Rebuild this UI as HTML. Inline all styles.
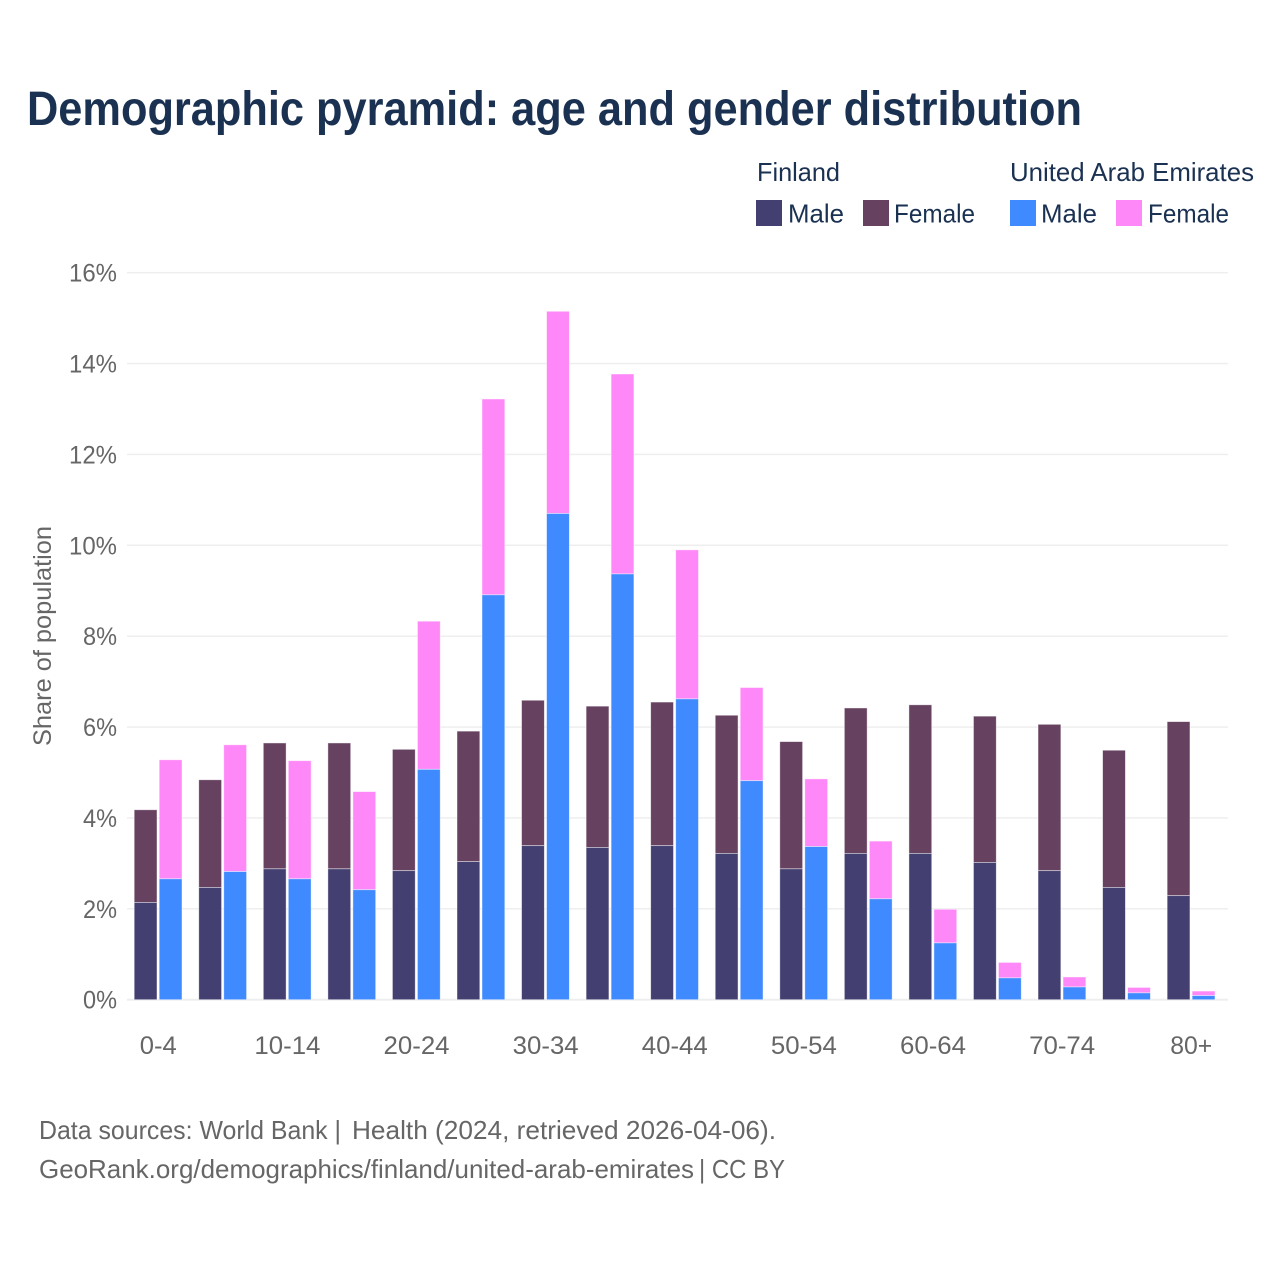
<!DOCTYPE html>
<html lang="en">
<head>
<meta charset="utf-8">
<title>Demographic pyramid</title>
<style>
html,body{margin:0;padding:0;background:#fff;}
svg{display:block;font-family:"Liberation Sans",sans-serif;}
</style>
</head>
<body>
<svg id="chart" width="1280" height="1280" viewBox="0 0 1280 1280" xmlns="http://www.w3.org/2000/svg">
<rect x="0" y="0" width="1280" height="1280" fill="#ffffff"/>
<text x="27" y="125" font-size="48" font-weight="700" fill="#1a3152" textLength="1055" lengthAdjust="spacingAndGlyphs">Demographic pyramid: age and gender distribution</text>
<g font-size="26" fill="#1a3152">
<text x="757" y="181" textLength="83" lengthAdjust="spacingAndGlyphs">Finland</text>
<text x="1010" y="181" textLength="244" lengthAdjust="spacingAndGlyphs">United Arab Emirates</text>
<rect x="756" y="200" width="26" height="26" fill="#433f70"/>
<text x="788" y="222.5" textLength="56" lengthAdjust="spacingAndGlyphs">Male</text>
<rect x="863" y="200" width="26" height="26" fill="#664160"/>
<text x="894" y="222.5" textLength="81" lengthAdjust="spacingAndGlyphs">Female</text>
<rect x="1010" y="200" width="26" height="26" fill="#408aff"/>
<text x="1041" y="222.5" textLength="56" lengthAdjust="spacingAndGlyphs">Male</text>
<rect x="1116" y="200" width="26" height="26" fill="#ff88f8"/>
<text x="1148" y="222.5" textLength="81" lengthAdjust="spacingAndGlyphs">Female</text>
</g>
<text transform="translate(51,746) rotate(-90)" font-size="25" fill="#666666" textLength="220" lengthAdjust="spacingAndGlyphs">Share of population</text>
<g id="grid"></g>
<g id="bars"></g>
<g id="xlabels"></g>
<text y="1139" font-size="26" fill="#666666"><tspan x="39" textLength="302" lengthAdjust="spacingAndGlyphs">Data sources: World Bank |</tspan><tspan x="352" textLength="424" lengthAdjust="spacingAndGlyphs">Health (2024, retrieved 2026-04-06).</tspan></text>
<text y="1178" font-size="26" fill="#666666"><tspan x="39" textLength="655" lengthAdjust="spacingAndGlyphs">GeoRank.org/demographics/finland/united-arab-emirates</tspan><tspan x="699" textLength="86" lengthAdjust="spacingAndGlyphs">| CC BY</tspan></text>
</svg>
<script>
var categories = ["0-4","5-9","10-14","15-19","20-24","25-29","30-34","35-39","40-44","45-49","50-54","55-59","60-64","65-69","70-74","75-79","80+"];
var finlandMale = [2.14,2.47,2.88,2.88,2.84,3.04,3.39,3.35,3.39,3.22,2.88,3.22,3.22,3.02,2.84,2.47,2.29];
var finlandFemale = [2.04,2.37,2.77,2.77,2.67,2.87,3.20,3.11,3.16,3.04,2.80,3.20,3.27,3.22,3.22,3.02,3.83];
var uaeMale = [2.66,2.82,2.66,2.42,5.07,8.91,10.70,9.37,6.62,4.82,3.37,2.22,1.25,0.48,0.28,0.15,0.09];
var uaeFemale = [2.62,2.79,2.60,2.16,3.26,4.31,4.45,4.40,3.28,2.05,1.49,1.27,0.74,0.34,0.22,0.12,0.10];
var yTicks = [0,2,4,6,8,10,12,14,16];
var xLabelEvery = 2;

var NS = "http://www.w3.org/2000/svg";
function yScale(v){ return 999.7 - v * 45.44; }
function xScale(i){ return 158 + i * 64.56; }
function make(tag, attrs, parent){
  var el = document.createElementNS(NS, tag);
  for (var k in attrs) el.setAttribute(k, attrs[k]);
  parent.appendChild(el);
  return el;
}
var gridG = document.getElementById("grid");
var barsG = document.getElementById("bars");
var xG = document.getElementById("xlabels");

yTicks.forEach(function(t){
  var y = yScale(t);
  var line = make("rect", {x:127, y:y-(t===0?1:0.75), width:1101, height:(t===0?2:1.5), fill:"#eeeeee"}, gridG);
  
  
  var lab = make("text", {x:117, y:y+9, "text-anchor":"end", "font-size":25, fill:"#666666", textLength:(t>=10?48:34), lengthAdjust:"spacingAndGlyphs"}, gridG);
  
  
  lab.textContent = t + "%";
});

function stack(x, w, male, female, cm, cf){
  var y0 = yScale(0), y1 = yScale(male), y2 = yScale(male + female);
  var f = make("rect", {x:x, y:y2, width:w, height:y1-y2, fill:cf, stroke:"#ffffff", "stroke-opacity":0.55, "stroke-width":0.8}, barsG);
  
  
  var m = make("rect", {x:x, y:y1, width:w, height:y0-y1, fill:cm, stroke:"#ffffff", "stroke-opacity":0.55, "stroke-width":0.8}, barsG);
  
  
}
var barW = 22.8;
categories.forEach(function(c, i){
  var cx = xScale(i);
  stack(cx - barW - 1, barW, finlandMale[i], finlandFemale[i], "#433f70", "#664160");
  stack(cx + 1.2, barW, uaeMale[i], uaeFemale[i], "#408aff", "#ff88f8");
  if (i % xLabelEvery === 0){
    var lab = make("text", {x:cx + 0.3, y:1054, "text-anchor":"middle", "font-size":25, fill:"#666666", textLength:(c.length>=5?66:(c==="0-4"?37:42)), lengthAdjust:"spacingAndGlyphs"}, xG);
    
    
    lab.textContent = c;
  }
});
</script>
</body>
</html>
